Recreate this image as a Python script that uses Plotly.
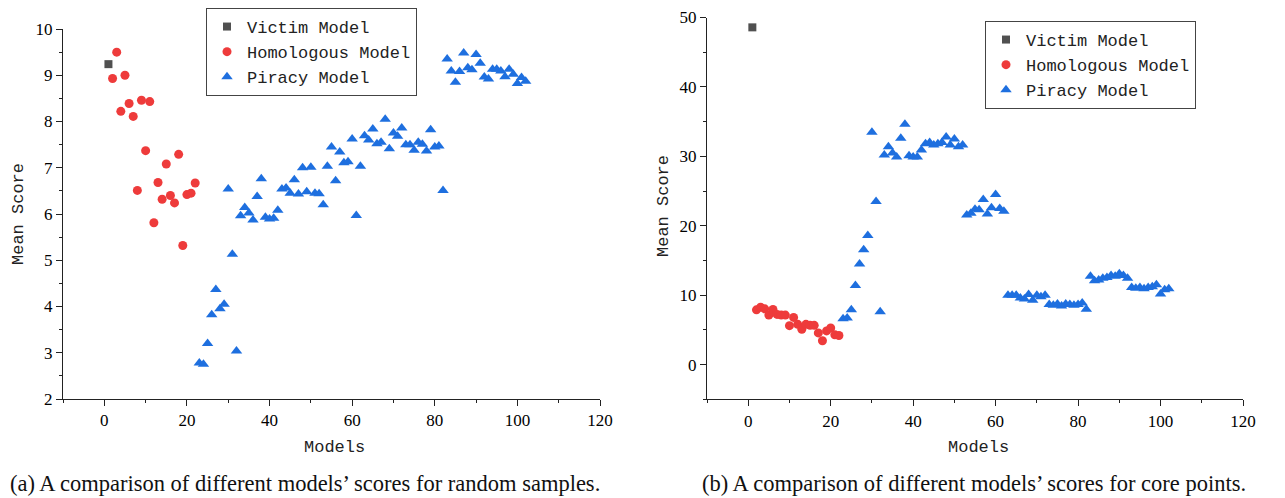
import plotly.graph_objects as go

# ---------------- data ----------------
victim_models = [1]
homologous_models = [2, 3, 4, 5, 6, 7, 8, 9, 10, 11, 12, 13, 14, 15, 16, 17, 18, 19, 20, 21, 22]
piracy_models = [23, 24, 25, 26, 27, 28, 29, 30, 31, 32,
                 33, 34, 35, 36, 37, 38, 39, 40, 41, 42,
                 43, 44, 45, 46, 47, 48, 49, 50, 51, 52,
                 53, 54, 55, 56, 57, 58, 59, 60, 61, 62,
                 63, 64, 65, 66, 67, 68, 69, 70, 71, 72,
                 73, 74, 75, 76, 77, 78, 79, 80, 81, 82,
                 83, 84, 85, 86, 87, 88, 89, 90, 91, 92,
                 93, 94, 95, 96, 97, 98, 99, 100, 101, 102]

# (a) random samples
a_victim = [9.24]
a_homologous = [8.93, 9.50, 8.22, 9.00, 8.39, 8.11, 6.51, 8.46, 7.37, 8.43, 5.81,
                6.68, 6.32, 7.08, 6.40, 6.24, 7.29, 5.32, 6.42, 6.45, 6.67]
a_piracy = [2.78, 2.75, 3.20, 3.82, 4.37, 3.95, 4.05, 6.54, 5.13, 3.04,
            5.96, 6.14, 6.02, 5.87, 6.38, 6.76, 5.93, 5.89, 5.91, 6.08,
            6.54, 6.56, 6.45, 6.74, 6.43, 7.00, 6.48, 7.01, 6.45, 6.44,
            6.20, 7.03, 7.45, 6.72, 7.34, 7.11, 7.13, 7.62, 5.97, 7.03,
            7.69, 7.60, 7.84, 7.52, 7.55, 8.05, 7.41, 7.75, 7.68, 7.86,
            7.50, 7.50, 7.38, 7.55, 7.51, 7.36, 7.82, 7.45, 7.47, 6.51,
            9.35, 9.09, 8.85, 9.08, 9.48, 9.16, 9.12, 9.45, 9.26, 8.96,
            8.92, 9.13, 9.13, 9.09, 8.97, 9.13, 9.02, 8.82, 8.95, 8.87]

# (b) core points
b_victim = [48.58]
b_homologous = [7.90, 8.28, 8.04, 7.14, 7.95, 7.24, 7.14, 7.14, 5.62, 6.81, 5.81,
                5.11, 5.81, 5.67, 5.67, 4.58, 3.44, 4.86, 5.29, 4.30, 4.20]
b_piracy = [6.61, 6.71, 7.90, 11.41, 14.49, 16.57, 18.62, 33.46, 23.50, 7.62,
            30.20, 31.40, 30.50, 29.90, 32.60, 34.64, 30.10, 29.90, 29.90, 30.90,
            31.80, 32.00, 31.65, 31.80, 32.00, 32.80, 31.65, 32.50, 31.40, 31.65,
            21.55, 21.80, 22.40, 22.30, 23.80, 21.70, 22.60, 24.50, 22.50, 22.10,
            10.00, 10.00, 10.00, 9.60, 9.46, 10.10, 9.28, 10.00, 9.80, 10.00,
            8.66, 8.56, 8.75, 8.46, 8.75, 8.66, 8.56, 8.66, 8.89, 7.99,
            12.73, 12.08, 12.20, 12.45, 12.55, 12.83, 12.73, 13.10, 12.83, 12.45,
            11.12, 11.02, 11.12, 10.94, 11.12, 11.22, 11.50, 10.17, 10.80, 10.94]

series_names = ["Victim Model", "Homologous Model", "Piracy Model"]
x_ticks = [0, 20, 40, 60, 80, 100, 120]
a_y_ticks = [2, 3, 4, 5, 6, 7, 8, 9, 10]
b_y_ticks = [0, 10, 20, 30, 40, 50]
captions = ["(a) A comparison of different models\u2019 scores for random samples.",
            "(b) A comparison of different models\u2019 scores for core points."]

# ---------------- style ----------------
W, H = 1285, 498
OFF = 8  # default page body margin
C_VICTIM = "#505050"
C_HOMO = "#EE3B3B"
C_PIRACY = "#1E6FDF"
MONO = "Liberation Mono, DejaVu Sans Mono, monospace"
SERIF = "Liberation Serif, Times New Roman, serif"

def px_x(p):
    return (p - OFF) / W

def px_y(p):
    return 1 - (p - OFF) / H

fig = go.Figure()

panels = [
    (a_victim, a_homologous, a_piracy, "x", "y", "legend"),
    (b_victim, b_homologous, b_piracy, "x2", "y2", "legend2"),
]
for vic, hom, pir, xa, ya, lg in panels:
    fig.add_trace(go.Scatter(x=victim_models, y=vic, mode="markers", name=series_names[0],
                             marker=dict(symbol="square", size=8, color=C_VICTIM, line=dict(width=0)),
                             xaxis=xa, yaxis=ya, legend=lg, cliponaxis=False))
    fig.add_trace(go.Scatter(x=homologous_models, y=hom, mode="markers", name=series_names[1],
                             marker=dict(symbol="circle", size=9, color=C_HOMO, line=dict(width=0)),
                             xaxis=xa, yaxis=ya, legend=lg, cliponaxis=False))
    fig.add_trace(go.Scatter(x=piracy_models, y=pir, mode="markers", name=series_names[2],
                             marker=dict(symbol="triangle-up", size=10, color=C_PIRACY, line=dict(width=0)),
                             xaxis=xa, yaxis=ya, legend=lg, cliponaxis=False))

tickfont = dict(family=SERIF, size=17, color="#000")

def xaxis_cfg(dom):
    return dict(domain=dom, range=[-10, 120], tickvals=x_ticks, ticks="outside", ticklen=6,
                tickwidth=1, tickcolor="#222", showline=True, linecolor="#222", linewidth=1,
                showgrid=False, zeroline=False, tickfont=tickfont, automargin=False,
                ticklabeloverflow="allow",
                minor=dict(dtick=10, tick0=0, ticks="outside", ticklen=3, tickcolor="#222", tickwidth=1, showgrid=False))

def yaxis_cfg(dom, rng, tv, minor_dt, anchor):
    return dict(domain=dom, range=rng, tickvals=tv, ticks="outside", ticklen=6,
                tickwidth=1, tickcolor="#222", showline=True, linecolor="#222", linewidth=1,
                showgrid=False, zeroline=False, tickfont=tickfont, anchor=anchor, automargin=False,
                ticklabeloverflow="allow",
                minor=dict(dtick=minor_dt, tick0=0, ticks="outside", ticklen=3, tickcolor="#222", tickwidth=1, showgrid=False))

fig.update_layout(
    width=W, height=H,
    margin=dict(l=0, r=0, t=0, b=0, pad=0, autoexpand=False),
    paper_bgcolor="white", plot_bgcolor="white",
    xaxis=xaxis_cfg([px_x(63), px_x(600)]) | dict(anchor="y"),
    yaxis=yaxis_cfg([px_y(399), px_y(29)], [2, 10], a_y_ticks, 0.5, "x"),
    xaxis2=xaxis_cfg([px_x(707), px_x(1243)]) | dict(anchor="y2"),
    yaxis2=yaxis_cfg([px_y(399.4), px_y(17.5)], [-5, 50], b_y_ticks, 5, "x2"),
    legend=dict(x=px_x(206), y=1.0, xanchor="left", yanchor="top",
                bordercolor="#444", borderwidth=1, bgcolor="white",
                font=dict(family=MONO, size=17, color="#222"), tracegroupgap=0),
    legend2=dict(x=px_x(985), y=px_y(21), xanchor="left", yanchor="top",
                 bordercolor="#444", borderwidth=1, bgcolor="white",
                 font=dict(family=MONO, size=17, color="#222"), tracegroupgap=0),
    showlegend=True,
)

annotations = []
for cx, cy_mid in [(18, 214), (663, 206)]:
    annotations.append(dict(text="Mean Score", x=px_x(cx), y=px_y(cy_mid), xref="paper", yref="paper",
                            showarrow=False, textangle=-90, font=dict(family=MONO, size=17, color="#222"),
                            xanchor="center", yanchor="middle"))
for cx in [334, 978]:
    annotations.append(dict(text="Models", x=px_x(cx), y=px_y(447), xref="paper", yref="paper",
                            showarrow=False, font=dict(family=MONO, size=17, color="#222"),
                            xanchor="center", yanchor="middle"))
for cx, cap in zip([305, 974], captions):
    annotations.append(dict(text=cap, x=px_x(cx), y=px_y(483), xref="paper", yref="paper",
                            showarrow=False, font=dict(family=SERIF, size=22.5, color="#111"),
                            xanchor="center", yanchor="middle"))
fig.update_layout(annotations=annotations)

fig.write_html("out.html")
